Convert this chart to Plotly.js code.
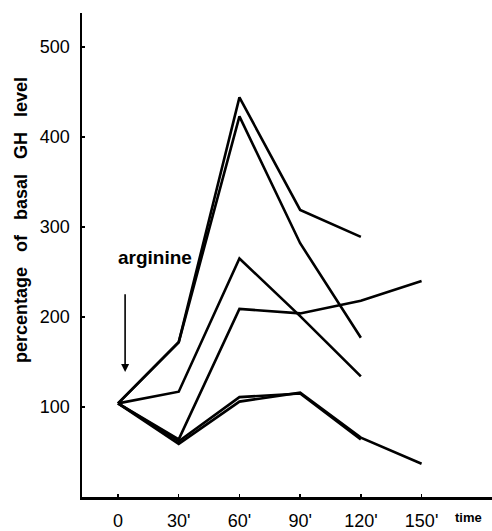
<!DOCTYPE html>
<html>
<head>
<meta charset="utf-8">
<script src="https://cdn.plot.ly/plotly-3.0.1.min.js"></script>
<style>html,body{margin:0;padding:0;background:#fff;}#chart{width:492px;height:531px;}</style>
</head>
<body>
<div id="chart"></div>
<script>
// time points (minutes after arginine)
const timeA = [0, 30, 60, 90, 120];
const valuesA = [104, 172, 444, 319, 289];
const timeB = [0, 30, 60, 90, 120];
const valuesB = [104, 172, 423, 282, 177];
const timeC = [0, 30, 60, 90, 120];
const valuesC = [104, 117, 265, 201, 134];
const timeD = [0, 30, 60, 90, 120, 150];
const valuesD = [104, 64, 209, 204, 218, 240];
const timeE = [0, 30, 60, 90, 120, 150];
const valuesE = [104, 59, 106, 116, 66, 37];
const timeF = [0, 30, 60, 90, 120];
const valuesF = [104, 62, 111, 115, 64];

const tickVals = [0, 30, 60, 90, 120, 150];
const tickText = ["0", "30'", "60'", "90'", "120'", "150'"];
const yTickVals = [100, 200, 300, 400, 500];
const yTickText = ["100", "200", "300", "400", "500"];

const series = [[timeA, valuesA], [timeB, valuesB], [timeC, valuesC], [timeD, valuesD], [timeE, valuesE], [timeF, valuesF]];
const traces = series.map(s => ({
  x: s[0], y: s[1], mode: 'lines', type: 'scatter',
  line: {color: '#000', width: 2.6}, hoverinfo: 'skip', showlegend: false
}));

const font = 'Liberation Sans, Arial, sans-serif';
const layout = {
  width: 492, height: 531,
  margin: {l: 82, r: 0, t: 13, b: 34},
  paper_bgcolor: '#fff', plot_bgcolor: '#fff',
  showlegend: false,
  xaxis: {
    range: [-17.8, 184.8], showgrid: false, zeroline: false,
    showline: true, linecolor: '#000', linewidth: 2.5,
    tickvals: tickVals, ticktext: tickText, ticks: 'inside', ticklen: 3, tickwidth: 1.5, tickcolor: '#000',
    tickfont: {family: font, size: 18, color: '#000'}, ticklabelstandoff: 6
  },
  yaxis: {
    range: [0, 537.8], showgrid: false, zeroline: false,
    showline: true, linecolor: '#000', linewidth: 2.5,
    tickvals: yTickVals, ticktext: yTickText, ticks: 'inside', ticklen: 3, tickwidth: 1.5, tickcolor: '#000',
    tickfont: {family: font, size: 18, color: '#000'}, ticklabelstandoff: 6
  },
  annotations: [
    {x: 3.5, y: 139, xref: 'x', yref: 'y', ax: 3.5, ay: 227, axref: 'x', ayref: 'y',
     showarrow: true, arrowhead: 2, arrowsize: 1, arrowwidth: 1.6, arrowcolor: '#000', text: ''},
    {x: 18.3, y: 266, xref: 'x', yref: 'y', text: 'arginine', showarrow: false,
     font: {family: font, size: 19, color: '#000', weight: 'bold'}},
    {x: -0.149, y: 0.572, xref: 'paper', yref: 'paper', xanchor: 'center', yanchor: 'middle',
     text: 'percentage\u00a0\u00a0 of\u00a0\u00a0 basal\u00a0\u00a0 GH\u00a0\u00a0 level', textangle: -90,
     showarrow: false, font: {family: font, size: 18, color: '#000', weight: 'bold'}},
    {x: 173.3, y: -0.062, xref: 'x', yref: 'paper', xanchor: 'center', text: 'time', showarrow: false,
     font: {family: font, size: 13, color: '#000', weight: 'bold'}}
  ]
};

Plotly.newPlot('chart', traces, layout, {staticPlot: true, displayModeBar: false});
</script>
</body>
</html>
